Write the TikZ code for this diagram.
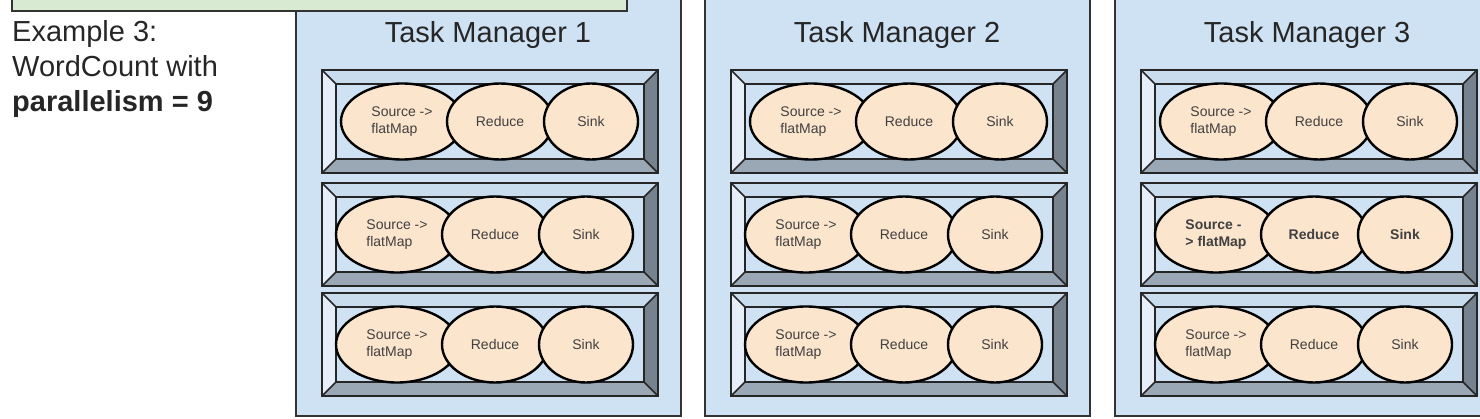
\documentclass[tikz,border=0pt]{standalone}
\usepackage{fontspec}
\setmainfont{Liberation Sans}
\usetikzlibrary{shapes.geometric}

\definecolor{tmblau}{HTML}{CFE2F3}
\definecolor{gruen}{HTML}{D9EAD3}
\definecolor{opfarbe}{HTML}{FCE5CD}
\definecolor{kanteOben}{HTML}{C9DCEE}
\definecolor{kanteLinks}{HTML}{E6EFF9}
\definecolor{kanteRechts}{HTML}{76828E}
\definecolor{kanteUnten}{HTML}{9AA7B4}

\begin{document}
\begin{tikzpicture}[x=1pt,y=-1pt,
    tmbox/.style={draw=black!80, line width=2pt, fill=tmblau},
    titel/.style={font=\fontsize{29}{34}\selectfont, text=black!85, anchor=base, inner sep=0pt},
    op/.style={ellipse, draw=black, line width=2.4pt, fill=opfarbe, inner sep=0pt,
      minimum height=76pt, align=left, text=black!75},
    rahmen/.style={draw=black!85, line width=2.6pt},
    kante/.style={draw=black!85, line width=1.5pt}]
	\useasboundingbox (0,0) rectangle (1480,419);
	\clip (0,0) rectangle (1480,419);
	
	% Task Manager
	\foreach \tm/\tx in {1/296, 2/705, 3/1115} {
		\draw[tmbox] (\tx,-10) rectangle ++(385,426);
		\node[titel] (titel\tm) at ({\tx+192},43) {Task Manager \tm};
		
		% Slots
		\foreach \s/\sy/\dx in {1/70/0, 2/183/-5, 3/293/-5} {
			\pgfmathsetmacro{\xa}{\tx+26}
			\pgfmathsetmacro{\xb}{\tx+362}
			\pgfmathsetmacro{\xc}{\tx+40}
			\pgfmathsetmacro{\xd}{\tx+348}
			\pgfmathsetmacro{\ya}{\sy}
			\pgfmathsetmacro{\yb}{\sy+103}
			\pgfmathsetmacro{\yc}{\sy+14}
			\pgfmathsetmacro{\yd}{\sy+89}
			\fill[kanteOben] (\xa,\ya) -- (\xb,\ya) -- (\xd,\yc) -- (\xc,\yc) -- cycle;
			\fill[kanteLinks] (\xa,\ya) -- (\xc,\yc) -- (\xc,\yd) -- (\xa,\yb) -- cycle;
			\fill[kanteRechts] (\xb,\ya) -- (\xb,\yb) -- (\xd,\yd) -- (\xd,\yc) -- cycle;
			\fill[kanteUnten] (\xa,\yb) -- (\xb,\yb) -- (\xd,\yd) -- (\xc,\yd) -- cycle;
			\draw[kante, fill=tmblau] (\xc,\yc) rectangle (\xd,\yd);
			\draw[kante] (\xa,\ya) -- (\xc,\yc) (\xb,\ya) -- (\xd,\yc)
			  (\xa,\yb) -- (\xc,\yd) (\xb,\yb) -- (\xd,\yd);
			\draw[rahmen] (\xa,\ya) rectangle (\xb,\yb);
			
			% Operatoren
			\ifnum\tm\s=32
				\def\fw{\bfseries}\def\srctext{Source -\\> flatMap}
			\else
				\def\fw{}\def\srctext{Source ->\\flatMap}
			\fi
			\node[op, minimum width=122pt, font=\fontsize{14}{17}\selectfont\fw]
			  (src-\tm-\s) at ({\tx+106+\dx},{\sy+51.5}) {\srctext};
			\node[op, minimum width=106pt, font=\fontsize{14}{17}\selectfont\fw]
			  (red-\tm-\s) at ({\tx+204+\dx},{\sy+51.5}) {Reduce};
			\node[op, minimum width=94pt, font=\fontsize{14}{17}\selectfont\fw]
			  (sink-\tm-\s) at ({\tx+295+\dx},{\sy+51.5}) {Sink};
		}
	}
	
	% Job Manager (oben)
	\draw[line width=2pt, draw=black!80, fill=gruen] (12,-20) rectangle (627,11);
	
	% Beschriftung
	\node[anchor=north west, align=left, inner sep=0pt, text=black!85,
	  font=\fontsize{29}{35}\selectfont] (beispiel) at (12,20)
	  {Example 3:\\WordCount with\\\textbf{parallelism = 9}};
\end{tikzpicture}
\end{document}
